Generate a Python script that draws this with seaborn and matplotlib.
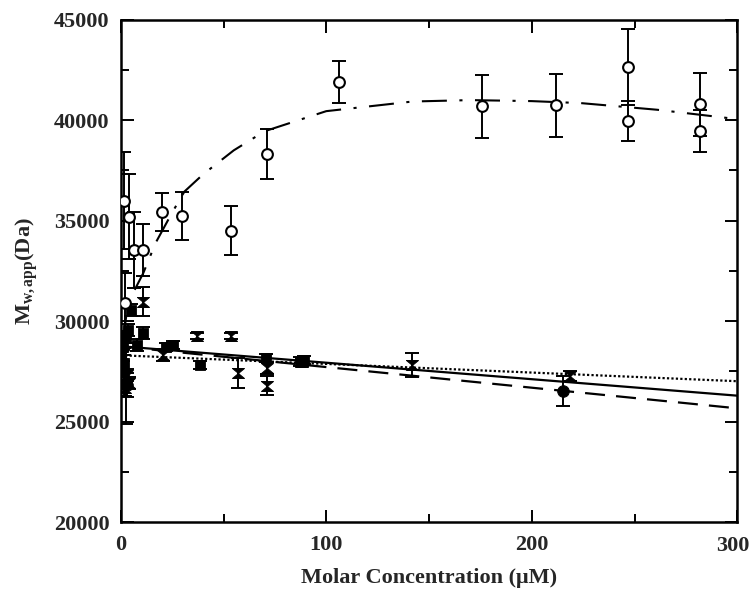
import numpy as np
import pandas as pd
import seaborn as sns
import matplotlib.pyplot as plt
from matplotlib.ticker import MultipleLocator

# open circles (dash-dot fit)
circ_x = [1.5, 2, 4, 6.5, 11, 20, 30, 53.5, 71, 106, 176, 212, 247, 247, 282, 282]
circ_y = [36000, 30900, 35200, 33550, 33550, 35450, 35250, 34500, 38300, 41900,
          40700, 40750, 42650, 39950, 40800, 39450]
circ_err = [2400, 1500, 2100, 1900, 1300, 950, 1200, 1230, 1250, 1050,
            1570, 1570, 1900, 1000, 1570, 1050]

# filled squares
sq_x = [1, 1.5, 2.5, 3.6, 5.2, 8, 10.9, 22.2, 25.5, 38.5, 70.5, 87, 89]
sq_y = [28700, 27900, 29200, 29560, 30560, 28800, 29400, 28730, 28820, 27820, 28150, 27990, 28050]
sq_err = [400, 400, 300, 300, 300, 300, 300, 200, 200, 200, 200, 200, 200]

# filled circles
fc_x = [1.5, 2.5, 3, 215]
fc_y = [27450, 26900, 26800, 26540]
fc_err = [1200, 2000, 600, 750]

# filled hourglasses
hg_x = [1, 2, 3, 4, 10.9, 20.6, 37, 53.6, 57, 71, 71, 88, 141.6, 218.4]
hg_y = [28300, 26650, 27300, 26900, 30970, 28320, 29260, 29260, 27410, 27650, 26790,
        27950, 27820, 27270]
hg_err = [300, 400, 300, 300, 730, 300, 150, 150, 730, 300, 470, 200, 600, 250]

# fitted lines
fit_x = [0, 300]
solid_y = [28750, 26290]
dashed_y = [28740, 25660]
dotted_y = [28300, 27010]

# dash-dot curve
curve_x = [1, 3, 6, 11, 17, 25, 31, 40, 55, 70, 100, 142, 170, 200, 224, 261, 292, 300]
curve_y = [29000, 30500, 31400, 32400, 33900, 35400, 36450, 37300, 38500, 39450,
           40450, 40930, 41000, 40950, 40850, 40520, 40150, 40050]

x_ticks = [0, 100, 200, 300]
x_labels = ['0', '100', '200', '300']

sns.set_theme(style="ticks")
plt.rcParams['font.family'] = ['Liberation Serif', 'DejaVu Serif']
plt.rcParams['font.weight'] = 'bold'
plt.rcParams['mathtext.fontset'] = 'custom'
plt.rcParams['mathtext.rm'] = 'Liberation Serif:bold'
plt.rcParams['mathtext.it'] = 'Liberation Serif:bold'
plt.rcParams['mathtext.bf'] = 'Liberation Serif:bold'

fig = plt.figure(figsize=(7.5, 5.98), dpi=100)
ax = fig.add_axes([0.161, 0.127, 0.822, 0.840])

hourglass = [(-1.2, 1), (1.2, 1), (-1.2, -1), (1.2, -1), (-1.2, 1)]

# fit lines
sns.lineplot(x=fit_x, y=solid_y, ax=ax, color='black', lw=1.6)
sns.lineplot(x=fit_x, y=dashed_y, ax=ax, color='black', lw=1.6, linestyle=(0, (9, 5)))
sns.lineplot(x=fit_x, y=dotted_y, ax=ax, color='black', lw=1.6, linestyle=(0, (1, 1)))
sns.lineplot(x=curve_x, y=curve_y, ax=ax, color='black', lw=1.5,
             linestyle=(0, (12, 6, 1.5, 6)), sort=False)

err_kw = dict(fmt='none', ecolor='black', elinewidth=1.4, capsize=5, capthick=1.4, zorder=3)
ax.errorbar(circ_x, circ_y, yerr=circ_err, **err_kw)
ax.errorbar(sq_x, sq_y, yerr=sq_err, **err_kw)
ax.errorbar(fc_x, fc_y, yerr=fc_err, **err_kw)
ax.errorbar(hg_x, hg_y, yerr=hg_err, **err_kw)

sns.scatterplot(x=sq_x, y=sq_y, ax=ax, marker='s', s=55, color='black',
                edgecolor='black', zorder=4)
sns.scatterplot(x=fc_x, y=fc_y, ax=ax, marker='o', s=70, color='black',
                edgecolor='black', zorder=4)
sns.scatterplot(x=hg_x, y=hg_y, ax=ax, marker=hourglass, s=75, color='black',
                edgecolor='black', zorder=4)
sns.scatterplot(x=circ_x, y=circ_y, ax=ax, marker='o', s=60, color='white',
                edgecolor='black', linewidth=1.5, zorder=5)

ax.set_xlim(0, 300)
ax.set_ylim(20000, 45000)
# last label drawn separately so it stays inside the figure
ax.set_xticks(x_ticks, x_labels[:-1] + [''])
ax.xaxis.set_minor_locator(MultipleLocator(50))
ax.yaxis.set_major_locator(MultipleLocator(5000))
ax.yaxis.set_minor_locator(MultipleLocator(2500))
ax.tick_params(which='both', direction='in', top=True, right=True, color='black')
ax.tick_params(which='major', length=9, width=1.4, labelsize=16, pad=9)
ax.tick_params(which='minor', length=6, width=1.4)
ax.tick_params(axis='y', which='major', pad=8)
ax.annotate(x_labels[-1], xy=(x_ticks[-1], 0), xycoords=('data', 'axes fraction'),
            xytext=(9, -10), textcoords='offset points', ha='right', va='top',
            fontsize=16, fontweight='bold', annotation_clip=False)
for sp in ax.spines.values():
    sp.set_linewidth(1.8)
    sp.set_color('black')

ax.set_xlabel('Molar Concentration (\u03bcM)', fontsize=16, fontweight='bold', labelpad=10)
ax.set_ylabel(r'M$_{\mathrm{w,app}}$(Da)', fontsize=16, fontweight='bold', labelpad=10)

fig.savefig('out.png', dpi=100)
